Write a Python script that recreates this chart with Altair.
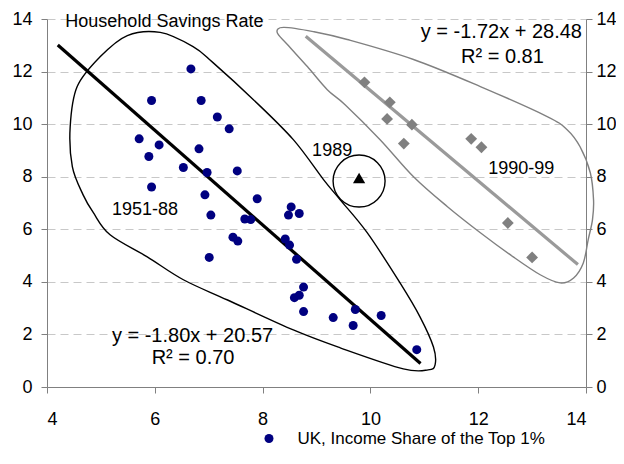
import altair as alt
import pandas as pd

FONT = "Liberation Sans"

# ---------------- data ----------------
# UK 1951-88 (navy dots): top 1% income share (x) vs household savings rate (y)
uk_x = [6.67, 5.94, 6.86, 7.16, 7.38, 5.71, 6.08, 6.82, 5.89, 6.53, 6.97, 7.53,
        5.94, 6.93, 7.90, 8.53, 7.04, 8.48, 8.68, 7.67, 7.78, 7.45, 7.54, 8.42,
        8.50, 8.63, 7.01, 8.76, 8.68, 8.59, 8.76, 9.31, 9.72, 9.68, 10.20, 10.86]
uk_y = [12.10, 10.90, 10.90, 10.27, 9.82, 9.44, 9.21, 9.06, 8.77, 8.35, 8.16, 8.22,
        7.61, 7.31, 7.16, 6.85, 6.54, 6.54, 6.60, 6.39, 6.37, 5.70, 5.55, 5.63,
        5.40, 4.86, 4.93, 3.80, 3.49, 3.40, 2.87, 2.64, 2.95, 2.34, 2.72, 1.42]

# 1990-99 (grey diamonds)
n90_x = [9.89, 10.36, 10.31, 10.77, 10.62, 11.87, 12.06, 12.55, 13.00]
n90_y = [11.59, 10.83, 10.20, 9.98, 9.26, 9.44, 9.12, 6.24, 4.93]

# 1989 (black triangle)
y89_x = [9.79]
y89_y = [7.95]

# trend lines (from the equations printed on the chart)
fit1_slope, fit1_icpt, fit1_range = -1.80, 20.57, [4.2, 10.93]
fit2_slope, fit2_icpt, fit2_range = -1.72, 28.48, [8.8, 13.85]

# hand-drawn outlines (data units)
blk_x = [6.10, 6.71, 7.08, 7.83, 8.57, 9.13, 9.44, 9.94, 10.55, 10.92, 11.17, 11.20,
         11.07, 10.61, 9.44, 8.57, 7.35, 6.53, 5.86, 5.17, 4.86, 4.67, 4.47, 4.43,
         4.56, 4.99, 5.49]
blk_y = [13.49, 12.95, 12.34, 10.93, 9.41, 7.89, 7.12, 5.87, 3.96, 2.67, 1.52, 0.84,
         0.65, 0.69, 1.49, 2.17, 3.31, 4.08, 4.95, 5.79, 6.63, 7.31, 8.38, 9.90,
         11.43, 12.57, 13.37]
gry_x = [8.27, 8.46, 8.83, 9.20, 9.53, 10.18, 10.80, 11.43, 12.04, 12.65, 13.15, 13.52,
         13.77, 13.95, 14.04, 14.12, 14.14, 14.08, 13.89, 13.65, 13.28, 12.04, 10.80,
         9.57, 8.94, 8.39]
gry_y = [13.49, 13.03, 12.19, 11.31, 10.74, 9.41, 8.00, 6.86, 5.87, 4.95, 4.27, 3.96,
         4.15, 4.72, 5.60, 6.36, 7.12, 8.15, 9.14, 9.79, 10.29, 11.43, 12.46, 13.22,
         13.52, 13.68]

x_ticks = [4, 6, 8, 10, 12, 14]
y_ticks = [0, 2, 4, 6, 8, 10, 12, 14]
legend_label = "UK, Income Share of the Top 1%"
title_text = "Household Savings Rate"

# labels: text, x, y, size
lab_text = ["1951-88", "1989", "1990-99",
            "y = -1.80x + 20.57", "R\u00b2 = 0.70",
            "y = -1.72x + 28.48", "R\u00b2 = 0.81"]
lab_x = [5.82, 9.29, 12.80, 6.70, 6.71, 12.43, 12.45]
lab_y = [6.74, 8.99, 8.30, 1.94, 1.10, 13.52, 12.57]
lab_size = [18, 18, 18, 20, 20, 20, 20]

# ---------------- chart ----------------
xs = alt.Scale(domain=[4, 14], nice=False, zero=False)
ys = alt.Scale(domain=[0, 14], nice=False, zero=False)

x_enc = alt.X("x:Q", scale=xs, title=None,
              axis=alt.Axis(values=x_ticks, grid=False, tickSize=6, labelPadding=17,
                            domainColor="#808080", tickColor="#808080"))
y_none = alt.Y("y:Q", scale=ys, title=None, axis=None)
y_left = alt.Y("y:Q", scale=ys, title=None,
               axis=alt.Axis(values=y_ticks, orient="left", grid=True, gridDash=[8, 5],
                             gridColor="#c8c8c8", tickSize=6, labelPadding=9,
                             domainColor="#808080", tickColor="#808080"))
y_right = alt.Y("y:Q", scale=ys, title=None,
                axis=alt.Axis(values=y_ticks, orient="right", grid=False, tickSize=6,
                              labelPadding=4, domainColor="#808080", tickColor="#808080"))

df_blk = pd.DataFrame({"x": blk_x, "y": blk_y, "i": range(len(blk_x))})
df_gry = pd.DataFrame({"x": gry_x, "y": gry_y, "i": range(len(gry_x))})

outline_blk = alt.Chart(df_blk).mark_line(
    interpolate="cardinal-closed", color="black", strokeWidth=1.4
).encode(x=x_enc, y=y_left, order="i:Q")
outline_gry = alt.Chart(df_gry).mark_line(
    interpolate="cardinal-closed", color="#808080", strokeWidth=1.4
).encode(x=x_enc, y=y_none, order="i:Q")

df_fit1 = pd.DataFrame({"x": fit1_range, "y": [fit1_slope * v + fit1_icpt for v in fit1_range]})
df_fit2 = pd.DataFrame({"x": fit2_range, "y": [fit2_slope * v + fit2_icpt for v in fit2_range]})
fit1 = alt.Chart(df_fit1).mark_line(color="black", strokeWidth=3.2).encode(x=x_enc, y=y_none)
fit2 = alt.Chart(df_fit2).mark_line(color="#9a9a9a", strokeWidth=3.2).encode(x=x_enc, y=y_none)

df_uk = pd.DataFrame({"x": uk_x, "y": uk_y, "series": legend_label})
uk = alt.Chart(df_uk).mark_point(filled=True, size=81, opacity=1, shape="circle").encode(
    x=x_enc, y=y_none,
    color=alt.Color("series:N",
                    scale=alt.Scale(domain=[legend_label], range=["#000080"]),
                    legend=alt.Legend(title=None, orient="none", legendX=213.5, legendY=411,
                                      labelFont=FONT, labelFontSize=17, labelColor="black",
                                      labelLimit=0, symbolSize=81, symbolType="circle",
                                      labelOffset=20, padding=0)),
)

df_90 = pd.DataFrame({"x": n90_x, "y": n90_y})
n90 = alt.Chart(df_90).mark_point(filled=True, size=140, opacity=1, shape="diamond",
                                  color="#808080").encode(x=x_enc, y=y_right)

df_89 = pd.DataFrame({"x": y89_x, "y": y89_y})
tri = alt.Chart(df_89).mark_point(filled=True, size=150, opacity=1, shape="triangle-up",
                                  color="black").encode(x=x_enc, y=y_none)
ring = alt.Chart(df_89).mark_point(filled=False, size=2704, opacity=1, shape="circle",
                                   color="black", strokeWidth=1.4, yOffset=3).encode(
    x=x_enc, y=y_none)

df_lab = pd.DataFrame({"x": lab_x, "y": lab_y, "t": lab_text, "s": lab_size})
labels = alt.Chart(df_lab).mark_text(font=FONT, color="black", align="center",
                                     baseline="middle").encode(
    x=x_enc, y=y_none, text="t:N",
    size=alt.Size("s:Q", scale=None, legend=None))

df_title = pd.DataFrame({"x": [4.34], "y": [13.87], "t": [title_text]})
title = alt.Chart(df_title).mark_text(font=FONT, fontSize=18, color="black", align="left",
                                      baseline="middle").encode(x=x_enc, y=y_none, text="t:N")

chart = alt.layer(
    outline_blk, outline_gry, fit1, fit2, uk, n90, ring, tri, labels, title
).resolve_axis(y="independent").properties(
    width=539, height=368,
    autosize=alt.AutoSizeParams(type="none"),
    padding={"left": 39, "top": 11, "right": 30, "bottom": 65},
).configure_view(stroke=None).configure_axis(
    labelFont=FONT, labelFontSize=18, labelColor="black"
)

chart.save("out.html", embed_options={"renderer": "svg", "actions": False})
